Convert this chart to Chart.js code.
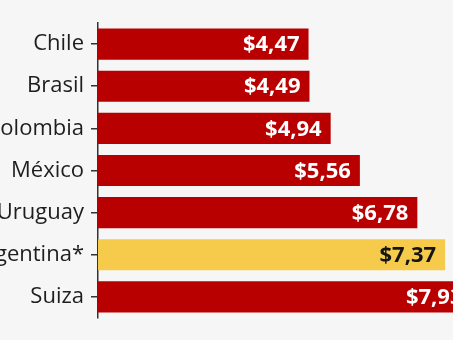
<!DOCTYPE html>
<html>
<head>
<meta charset="utf-8">
<script src="https://cdn.jsdelivr.net/npm/chart.js@4/dist/chart.umd.min.js"></script>
<style>
  html, body { margin: 0; padding: 0; background: #f6f6f6; }
  #wrap { position: relative; width: 453px; height: 340px; overflow: hidden; background: #f6f6f6; }
  #chart { position: absolute; left: -40px; top: 0; }
</style>
</head>
<body>
<div id="wrap">
  <canvas id="chart" width="609" height="340"></canvas>
</div>
<script>
// Precio de la Big Mac en dólares
const countries = ['Chile', 'Brasil', 'Colombia', 'México', 'Uruguay', 'Argentina*', 'Suiza'];
const prices = [4.47, 4.49, 4.94, 5.56, 6.78, 7.37, 7.93];
const barColors = ['#b80000', '#b80000', '#b80000', '#b80000', '#b80000', '#f6cb4b', '#b80000'];
const valueColors = ['#ffffff', '#ffffff', '#ffffff', '#ffffff', '#ffffff', '#141414', '#ffffff'];

const fmt = v => '$' + v.toFixed(2).replace('.', ',');

// etiquetas de valor dentro de las barras
const valueLabels = {
  id: 'valueLabels',
  afterDatasetsDraw(chart) {
    const ctx = chart.ctx;
    const meta = chart.getDatasetMeta(0);
    ctx.save();
    ctx.font = 'bold 22px "Open Sans", sans-serif';
    ctx.textAlign = 'right';
    ctx.textBaseline = 'middle';
    meta.data.forEach((bar, i) => {
      ctx.fillStyle = valueColors[i];
      ctx.fillText(fmt(prices[i]), bar.x - 9, bar.y + 1);
    });
    ctx.restore();
  }
};

new Chart(document.getElementById('chart'), {
  type: 'bar',
  data: {
    labels: countries,
    datasets: [{
      data: prices,
      backgroundColor: barColors,
      borderWidth: 0,
      barPercentage: 0.86,
      categoryPercentage: 0.86,
    }],
  },
  options: {
    indexAxis: 'y',
    responsive: false,
    animation: false,
    devicePixelRatio: 1,
    layout: { padding: { top: 23, bottom: 22, left: 0, right: 0 } },
    plugins: {
      legend: { display: false },
      tooltip: { enabled: false },
    },
    scales: {
      x: {
        display: false,
        min: 0,
        max: 10,
      },
      y: {
        afterFit(scale) { scale.width = 138; },
        grid: {
          offset: false,
          drawOnChartArea: false,
          drawTicks: true,
          tickLength: 7,
          color: '#333333',
          lineWidth: 1.5,
        },
        border: { display: true, color: '#333333', width: 1.5 },
        ticks: {
          autoSkip: false,
          padding: 7,
          color: '#1e1e1e',
          font: { family: '"Open Sans", sans-serif', size: 22 },
        },
      },
    },
  },
  plugins: [valueLabels],
});
</script>
</body>
</html>
